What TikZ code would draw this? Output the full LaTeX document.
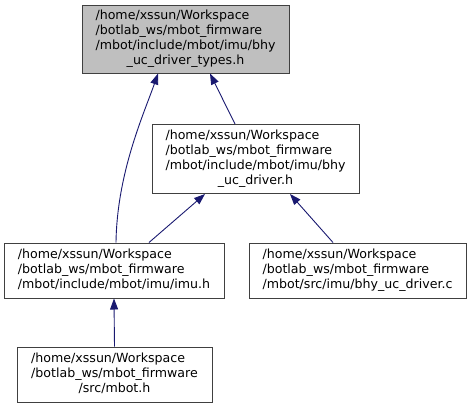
\documentclass[tikz,border=0pt]{standalone}
\usepackage{fontspec}
\setmainfont{DejaVu Sans}
\usetikzlibrary{arrows.meta}
\definecolor{edgecol}{HTML}{191970}
\definecolor{boxgray}{HTML}{BFBFBF}
\definecolor{boxline}{HTML}{404040}
\newcommand{\ftx}{\fontsize{12.6}{14.8}\selectfont}
\tikzset{
  filebox/.style={draw=boxline, line width=1pt, fill=white, inner sep=0pt, font=\ftx},
  edge/.style={draw=edgecol, line width=0.9pt, -{Triangle[length=11pt,width=8pt]}},
}
\begin{document}
\begin{tikzpicture}[x=1pt,y=-1pt]
\useasboundingbox (0,0) rectangle (471,408);
\node[filebox, fill=boxgray, minimum width=207pt, minimum height=68pt] (top) at (185.5,39)
  {\begin{tabular}{@{}l@{}}/home/xssun/Workspace\\/botlab\_ws/mbot\_firmware\\/mbot/include/mbot/imu/bhy\\\multicolumn{1}{@{}c@{}}{\_uc\_driver\_types.h}\end{tabular}};
\node[filebox, minimum width=207pt, minimum height=69pt] (mid) at (255.5,159)
  {\begin{tabular}{@{}l@{}}/home/xssun/Workspace\\/botlab\_ws/mbot\_firmware\\/mbot/include/mbot/imu/bhy\\\multicolumn{1}{@{}c@{}}{\_uc\_driver.h}\end{tabular}};
\node[filebox, minimum width=220pt, minimum height=55pt] (imu) at (114,270.5)
  {\begin{tabular}{@{}l@{}}/home/xssun/Workspace\\/botlab\_ws/mbot\_firmware\\/mbot/include/mbot/imu/imu.h\end{tabular}};
\node[filebox, minimum width=217pt, minimum height=55pt] (drv) at (357.5,270.5)
  {\begin{tabular}{@{}l@{}}/home/xssun/Workspace\\/botlab\_ws/mbot\_firmware\\/mbot/src/imu/bhy\_uc\_driver.c\end{tabular}};
\node[filebox, minimum width=195pt, minimum height=55pt] (mbot) at (114.5,374.5)
  {\begin{tabular}{@{}l@{}}/home/xssun/Workspace\\/botlab\_ws/mbot\_firmware\\\multicolumn{1}{@{}c@{}}{/src/mbot.h}\end{tabular}};
\draw[edge] ([xshift=2pt]imu.north) .. controls +(1,-70) and +(-14,40) .. ([xshift=-27.5pt]top.south);
\draw[edge] ([xshift=-20.5pt]mid.north) -- ([xshift=24.5pt]top.south);
\draw[edge] ([xshift=35pt]imu.north) -- ([xshift=-50.5pt]mid.south);
\draw[edge] ([xshift=-24.5pt]drv.north) -- ([xshift=34.5pt]mid.south);
\draw[edge] (mbot.north) -- (imu.south);
\end{tikzpicture}
\end{document}
